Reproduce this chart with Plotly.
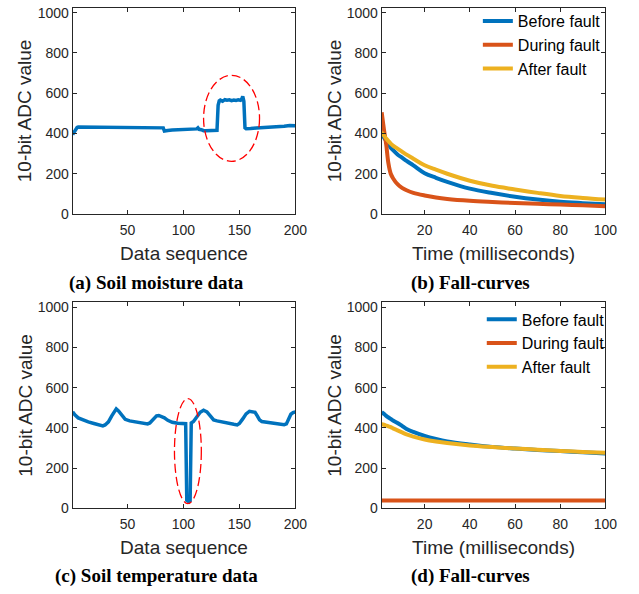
import plotly.graph_objects as go

# ---------------- data ----------------
# (a) soil moisture
seq_a = [1, 2, 3, 4, 5, 6, 8, 10, 15, 20, 25, 30, 35, 40, 45, 50, 55, 60, 65, 70, 75, 80, 82, 83,
         84, 86, 90, 95, 100, 105, 108, 110, 112, 113, 114, 116, 118, 120, 125, 129, 130, 131, 132,
         133, 135, 137, 139, 141, 143, 145, 147, 149, 151, 152, 153, 154, 155, 156, 158, 160, 165,
         170, 175, 180, 185, 190, 195, 200]
moist = [395, 405, 418, 426, 430, 432, 432, 431, 432, 431, 430, 430, 430, 429, 430, 430, 430, 431,
         430, 431, 430, 429, 428, 412, 414, 415, 417, 418, 419, 420, 420, 421, 423, 428, 421, 419,
         414, 414, 413, 414, 416, 540, 562, 566, 560, 568, 565, 567, 563, 566, 564, 567, 565, 570,
         585, 560, 428, 424, 426, 425, 427, 428, 430, 432, 433, 436, 440, 439]

# (c) soil temperature
seq_c = [1, 3, 6, 10, 15, 20, 25, 28, 30, 33, 36, 40, 42, 45, 48, 52, 58, 63, 68, 70, 73, 76, 78,
         80, 83, 86, 90, 95, 100, 102, 103, 104, 105, 106, 107, 109, 112, 115, 118, 121, 124, 127,
         130, 135, 140, 145, 148, 150, 153, 156, 159, 162, 164, 166, 168, 170, 175, 180, 185, 188,
         190, 192, 194, 196, 198, 200]
temp = [480, 465, 450, 440, 430, 422, 415, 410, 415, 430, 460, 495, 485, 465, 443, 435, 428, 425,
        420, 425, 445, 460, 462, 458, 450, 438, 428, 423, 423, 421, 40, 35, 32, 38, 425, 432, 455,
        478, 488, 480, 460, 440, 435, 428, 423, 418, 415, 422, 445, 470, 483, 482, 478, 460, 440,
        432, 428, 422, 418, 417, 416, 420, 445, 468, 476, 480]

# (b) fall-curves, soil moisture sensor
t_ms = [1, 2, 3, 4, 5, 6, 8, 10, 12, 15, 20, 25, 30, 40, 50, 60, 70, 80, 90, 100]
b_before = [398, 380, 362, 345, 330, 318, 296, 280, 264, 242, 203, 180, 160, 126, 104, 86, 72, 61, 54, 48]
b_during = [505, 420, 345, 250, 200, 178, 148, 130, 118, 105, 92, 82, 75, 66, 60, 55, 51, 47, 43, 38]
b_after = [406, 390, 375, 362, 350, 340, 325, 310, 295, 275, 242, 220, 200, 165, 140, 122, 105, 90, 80, 72]

# (d) fall-curves, soil temperature sensor
d_before = [478, 470, 460, 452, 445, 437, 425, 410, 395, 380, 360, 345, 333, 318, 306, 298, 291, 285, 279, 273]
d_during = [40, 40, 40, 40, 40, 40, 40, 40, 40, 40, 40, 40, 40, 40, 40, 40, 40, 40, 40, 40]
d_after = [418, 416, 412, 408, 404, 398, 388, 378, 368, 357, 343, 333, 325, 313, 305, 298, 292, 286, 281, 277]

series_names = ["Before fault", "During fault", "After fault"]
seq_ticks = [50, 100, 150, 200]
time_ticks = [20, 40, 60, 80, 100]
adc_ticks = [0, 200, 400, 600, 800, 1000]
captions = ["(a) Soil moisture data", "(b) Fall-curves", "(c) Soil temperature data", "(d) Fall-curves"]

# ---------------- styles ----------------
BLUE, ORANGE, YELLOW = "#0072BD", "#D95319", "#EDB120"
AX = "#262626"
SANS = "Liberation Sans, Arial, Helvetica, sans-serif"
SERIF = "Liberation Serif, Times New Roman, serif"

fig = go.Figure()

fig.add_trace(go.Scatter(x=seq_a, y=moist, mode="lines", line=dict(color=BLUE, width=3.5),
                         xaxis="x", yaxis="y", showlegend=False))
fig.add_trace(go.Scatter(x=seq_c, y=temp, mode="lines", line=dict(color=BLUE, width=3.5),
                         xaxis="x3", yaxis="y3", showlegend=False))

for name, vals, col in zip(series_names, [b_before, b_during, b_after], [BLUE, ORANGE, YELLOW]):
    fig.add_trace(go.Scatter(x=t_ms, y=vals, mode="lines", name=name,
                             line=dict(color=col, width=4, shape="spline"),
                             xaxis="x2", yaxis="y2", legend="legend"))
for name, vals, col in zip(series_names, [d_before, d_during, d_after], [BLUE, ORANGE, YELLOW]):
    fig.add_trace(go.Scatter(x=t_ms, y=vals, mode="lines", name=name,
                             line=dict(color=col, width=4, shape="spline"),
                             xaxis="x4", yaxis="y4", legend="legend2"))

col_dom = [[74 / 639, 301 / 639], [389 / 639, 617 / 639]]
row_dom = [[1 - 215 / 594, 1 - 5 / 594], [1 - 515 / 594, 1 - 305 / 594]]

def xax(dom, anchor, rng, ticks, title):
    return dict(domain=dom, anchor=anchor, range=rng, tickvals=ticks,
                showline=True, linecolor=AX, linewidth=1, mirror="ticks",
                ticks="inside", ticklen=4, tickcolor=AX, showgrid=False, zeroline=False,
                ticklabelstandoff=3,
                tickfont=dict(family=SANS, size=14, color=AX),
                title=dict(text=title, font=dict(family=SANS, size=19, color=AX), standoff=9))

def yax(dom, anchor):
    return dict(domain=dom, anchor=anchor, range=[0, 1024], tickvals=adc_ticks,
                showline=True, linecolor=AX, linewidth=1, mirror="ticks",
                ticks="inside", ticklen=4, tickcolor=AX, showgrid=False, zeroline=False,
                tickfont=dict(family=SANS, size=14, color=AX),
                title=dict(text="10-bit ADC value", font=dict(family=SANS, size=19, color=AX), standoff=0))

fig.update_layout(
    width=639, height=594, margin=dict(l=0, r=0, t=0, b=0),
    paper_bgcolor="white", plot_bgcolor="white",
    xaxis=xax(col_dom[0], "y", [1, 200], seq_ticks, "Data sequence"),
    yaxis=yax(row_dom[0], "x"),
    xaxis2=xax(col_dom[1], "y2", [1, 100], time_ticks, "Time (milliseconds)"),
    yaxis2=yax(row_dom[0], "x2"),
    xaxis3=xax(col_dom[0], "y3", [1, 200], seq_ticks, "Data sequence"),
    yaxis3=yax(row_dom[1], "x3"),
    xaxis4=xax(col_dom[1], "y4", [1, 100], time_ticks, "Time (milliseconds)"),
    yaxis4=yax(row_dom[1], "x4"),
    legend=dict(x=487 / 639, y=1 - 1 / 594, xanchor="left", yanchor="top",
                bgcolor="rgba(0,0,0,0)", font=dict(family=SANS, size=16, color="black"),
                itemwidth=30, tracegroupgap=0),
    legend2=dict(x=491 / 639, y=1 - 305 / 594, xanchor="left", yanchor="top",
                 bgcolor="rgba(0,0,0,0)", font=dict(family=SANS, size=16, color="black"),
                 itemwidth=30, tracegroupgap=0),
)

# red dashed ellipses marking the faults
ell_a = dict(x0=118, x1=168, y0=262, y1=689)
ell_c = dict(x0=92, x1=116, y0=24, y1=546)
fig.add_shape(type="circle", xref="x", yref="y", line=dict(color="red", width=1.3, dash="9px,4px"), **ell_a)
fig.add_shape(type="circle", xref="x3", yref="y3", line=dict(color="red", width=1.3, dash="9px,4px"), **ell_c)

cap_pos = [(160 / 639, 1 - 285 / 594), (479 / 639, 1 - 285 / 594),
           (160 / 639, 1 - 584 / 594), (479 / 639, 1 - 584 / 594)]
for txt, (cx, cy) in zip(captions, cap_pos):
    fig.add_annotation(text="<b>" + txt + "</b>", x=cx, y=cy, xref="paper", yref="paper",
                       xanchor="center", yanchor="middle", showarrow=False,
                       font=dict(family=SERIF, size=19, color="black"))

fig.write_html("out.html")
